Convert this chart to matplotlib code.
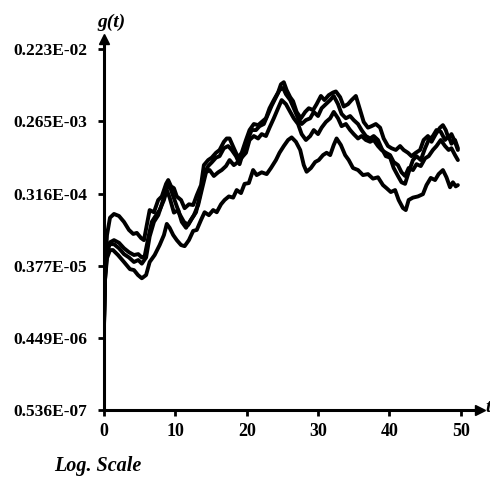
import matplotlib
matplotlib.use("Agg")
import matplotlib.pyplot as plt

# reading off the picture: time t and g(t) for the four curves
t_a = [0, 0.14, 0.42, 0.84, 1.4, 2.1, 2.8, 3.5, 4.1, 4.6, 5.2, 5.6, 6.0, 6.4, 7.0, 7.6, 8.1, 8.7, 9.0, 9.4,
       9.8, 10.2, 10.8, 11.3, 11.9, 12.5, 13.0, 13.6, 14.0, 14.6, 15.1, 15.7, 16.2, 16.8, 17.2, 17.6, 18.2,
       18.8, 19.3, 19.9, 20.4, 21.0, 21.6, 22.1, 22.7, 23.2, 23.8, 24.4, 24.8, 25.2, 25.6, 26.1, 26.5, 27.0,
       27.6, 28.2, 28.7, 29.3, 29.8, 30.4, 30.9, 31.5, 32.1, 32.5, 33.1, 33.6, 34.2, 34.7, 35.3, 35.9, 36.4,
       37.0, 37.5, 38.1, 38.7, 39.2, 39.8, 40.3, 40.9, 41.5, 42.0, 42.6, 43.1, 43.7, 44.3, 44.8, 45.4, 45.9,
       46.5, 47.1, 47.5, 47.9, 48.3, 48.7, 49.2, 49.6]
g_a = [6.6e-7, 3.3e-6, 9.3e-6, 1.55e-5, 1.73e-5, 1.63e-5, 1.37e-5, 1.08e-5, 9.6e-6, 9.9e-6, 8.5e-6, 8.0e-6,
       1.25e-5, 1.94e-5, 1.82e-5, 2.61e-5, 2.9e-5, 4.2e-5, 4.7e-5, 3.9e-5, 3.7e-5, 2.9e-5, 2.61e-5, 2.05e-5,
       2.3e-5, 2.25e-5, 3.0e-5, 4.05e-5, 7.3e-5, 8.47e-5, 9.1e-5, 1.05e-4, 1.14e-4, 1.45e-4, 1.6e-4, 1.6e-4,
       1.2e-4, 9.1e-5, 1.05e-4, 1.53e-4, 2.05e-4, 2.45e-4, 2.37e-4, 2.6e-4, 2.9e-4, 3.9e-4, 4.96e-4, 6.2e-4,
       7.9e-4, 8.4e-4, 6.66e-4, 5.4e-4, 4.8e-4, 3.5e-4, 2.9e-4, 3.5e-4, 3.9e-4, 3.69e-4, 4.4e-4, 5.6e-4,
       4.96e-4, 5.74e-4, 6.2e-4, 6.4e-4, 5.4e-4, 4.1e-4, 4.4e-4, 4.96e-4, 5.6e-4, 3.69e-4, 2.6e-4, 2.2e-4,
       2.3e-4, 2.45e-4, 2.2e-4, 1.6e-4, 1.28e-4, 1.2e-4, 1.14e-4, 1.28e-4, 1.14e-4, 1.05e-4, 9.5e-5, 1.05e-4,
       1.14e-4, 1.53e-4, 1.72e-4, 1.45e-4, 1.82e-4, 2.2e-4, 2.37e-4, 2.05e-4, 1.6e-4, 1.82e-4, 1.45e-4, 1.14e-4]

t_b = [0, 0.14, 0.42, 0.84, 1.4, 2.1, 2.8, 3.5, 4.2, 4.8, 5.3, 5.7, 6.2, 6.7, 7.3, 7.8, 8.4, 8.8, 9.2, 9.8,
       10.4, 10.9, 11.5, 12.0, 12.6, 13.2, 13.7, 14.3, 14.8, 15.4, 16.0, 16.5, 17.1, 17.6, 18.2, 18.8, 19.3,
       19.9, 20.4, 21.0, 21.6, 22.1, 22.7, 23.2, 23.8, 24.4, 24.9, 25.5, 26.1, 26.6, 27.2, 27.7, 28.3, 28.9,
       29.4, 30.0, 30.5, 31.1, 31.7, 32.2, 32.8, 33.3, 33.9, 34.5, 35.0, 35.6, 36.1, 36.7, 37.3, 37.8, 38.4,
       38.9, 39.5, 40.1, 40.6, 41.2, 41.7, 42.2, 42.7, 43.3, 43.8, 44.4, 45.0, 45.5, 46.1, 46.6, 47.2, 47.8,
       48.3, 48.7, 49.2, 49.6]
g_b = [6.2e-7, 2.47e-6, 5.6e-6, 7.5e-6, 8.0e-6, 7.4e-6, 6.3e-6, 5.6e-6, 5.16e-6, 5.3e-6, 4.8e-6, 5.0e-6,
       8.5e-6, 1.37e-5, 1.67e-5, 1.94e-5, 2.61e-5, 3.5e-5, 2.8e-5, 1.8e-5, 1.94e-5, 1.37e-5, 1.15e-5, 1.37e-5,
       1.67e-5, 2.25e-5, 3.5e-5, 5.9e-5, 6.31e-5, 5.3e-5, 5.9e-5, 6.31e-5, 7.1e-5, 8.47e-5, 7.3e-5, 8.0e-5,
       9.1e-5, 1.05e-4, 1.53e-4, 1.72e-4, 1.6e-4, 1.82e-4, 1.72e-4, 2.2e-4, 2.9e-4, 3.9e-4, 4.96e-4, 4.4e-4,
       3.5e-4, 2.9e-4, 2.45e-4, 1.82e-4, 1.53e-4, 1.72e-4, 2.05e-4, 1.82e-4, 2.2e-4, 2.6e-4, 2.9e-4, 3.5e-4,
       2.9e-4, 2.3e-4, 2.45e-4, 2.05e-4, 1.82e-4, 1.6e-4, 1.72e-4, 1.53e-4, 1.45e-4, 1.53e-4, 1.28e-4,
       1.14e-4, 1.05e-4, 9.8e-5, 8.0e-5, 7.3e-5, 5.9e-5, 5.3e-5, 6.7e-5, 6.31e-5, 7.5e-5, 7.1e-5, 8.9e-5,
       9.5e-5, 1.14e-4, 1.28e-4, 1.53e-4, 1.28e-4, 1.14e-4, 1.2e-4, 9.8e-5, 8.47e-5]

t_c = [0, 0.14, 0.42, 0.84, 1.4, 2.1, 2.8, 3.5, 4.2, 4.8, 5.3, 5.9, 6.4, 7.0, 7.6, 8.1, 8.7, 9.1, 9.5, 10.1,
       10.6, 11.2, 11.8, 12.3, 12.9, 13.4, 14.0, 14.6, 15.1, 15.7, 16.2, 16.8, 17.4, 17.9, 18.5, 19.0, 19.6,
       20.2, 20.7, 21.3, 21.8, 22.4, 23.0, 23.5, 24.1, 24.6, 25.1, 25.5, 26.1, 26.6, 27.2, 27.7, 28.3, 28.9,
       29.4, 30.0, 30.5, 31.1, 31.7, 32.2, 32.8, 33.3, 33.9, 34.5, 35.0, 35.6, 36.1, 36.7, 37.3, 37.8, 38.4,
       38.9, 39.5, 40.1, 40.6, 41.2, 41.7, 42.2, 42.7, 43.3, 43.8, 44.4, 45.0, 45.5, 46.1, 46.6, 47.2, 47.8,
       48.3, 48.7, 49.2, 49.6]
g_c = [6.4e-7, 2.86e-6, 6.0e-6, 7.1e-6, 7.1e-6, 6.3e-6, 5.3e-6, 4.8e-6, 4.2e-6, 4.45e-6, 4.0e-6, 4.8e-6,
       8.9e-6, 1.37e-5, 1.67e-5, 2.3e-5, 3.5e-5, 4.2e-5, 3.3e-5, 2.3e-5, 1.72e-5, 1.37e-5, 1.25e-5, 1.5e-5,
       1.82e-5, 2.9e-5, 5.44e-5, 7.1e-5, 7.9e-5, 9.1e-5, 9.5e-5, 1.2e-4, 1.28e-4, 1.14e-4, 9.5e-5, 7.5e-5,
       1.14e-4, 1.6e-4, 2.05e-4, 2.05e-4, 2.3e-4, 2.45e-4, 3.3e-4, 4.2e-4, 5.4e-4, 6.66e-4, 7.1e-4, 5.9e-4,
       4.96e-4, 3.9e-4, 2.9e-4, 2.45e-4, 2.75e-4, 2.9e-4, 3.5e-4, 3.1e-4, 3.9e-4, 4.4e-4, 4.96e-4, 5.6e-4,
       4.4e-4, 3.3e-4, 2.9e-4, 3.1e-4, 2.75e-4, 2.45e-4, 2.05e-4, 1.72e-4, 1.6e-4, 1.72e-4, 1.53e-4, 1.2e-4,
       9.5e-5, 9.1e-5, 6.7e-5, 5.3e-5, 4.4e-5, 4.2e-5, 5.9e-5, 8.47e-5, 9.5e-5, 8.47e-5, 1.2e-4, 1.53e-4,
       1.72e-4, 2.05e-4, 1.95e-4, 1.53e-4, 1.72e-4, 1.37e-4, 1.53e-4, 1.2e-4]

t_d = [0, 0.14, 0.42, 0.84, 1.26, 1.96, 2.8, 3.64, 4.2, 4.76, 5.3, 5.9, 6.4, 7.1, 7.8, 8.4, 8.8, 9.2, 9.7,
       10.2, 10.8, 11.3, 11.9, 12.5, 13.0, 13.6, 14.1, 14.7, 15.3, 15.8, 16.4, 16.9, 17.5, 18.1, 18.6, 19.2,
       19.7, 20.3, 20.9, 21.4, 22.1, 22.8, 23.4, 24.1, 24.6, 25.2, 25.8, 26.3, 26.9, 27.5, 28.0, 28.4, 29.0,
       29.6, 30.1, 30.7, 31.2, 31.7, 32.2, 32.6, 33.2, 33.8, 34.3, 34.9, 35.6, 36.3, 37.0, 37.7, 38.4, 39.1,
       39.6, 40.2, 40.8, 41.3, 41.9, 42.3, 42.7, 43.3, 44.0, 44.7, 45.2, 45.8, 46.4, 46.9, 47.5, 48.0, 48.5,
       48.9, 49.3, 49.6]
g_d = [7.6e-7, 2.47e-6, 4.7e-6, 5.97e-6, 5.97e-6, 5.16e-6, 4.2e-6, 3.4e-6, 3.31e-6, 2.86e-6, 2.6e-6,
       2.86e-6, 4.2e-6, 5.16e-6, 6.92e-6, 9.29e-6, 1.29e-5, 1.15e-5, 9.29e-6, 8.0e-6, 6.92e-6, 6.7e-6, 8.0e-6,
       1.05e-5, 1.08e-5, 1.45e-5, 1.82e-5, 1.67e-5, 1.94e-5, 1.82e-5, 2.3e-5, 2.61e-5, 2.9e-5, 2.8e-5, 3.5e-5,
       3.2e-5, 4.2e-5, 4.3e-5, 6.31e-5, 5.44e-5, 5.9e-5, 5.6e-5, 6.7e-5, 8.47e-5, 1.05e-4, 1.28e-4, 1.53e-4,
       1.65e-4, 1.45e-4, 1.14e-4, 7.31e-5, 6.0e-5, 6.7e-5, 8.0e-5, 8.47e-5, 9.81e-5, 1.05e-4, 9.8e-5, 1.32e-4,
       1.6e-4, 1.32e-4, 9.8e-5, 8.47e-5, 6.7e-5, 6.31e-5, 5.44e-5, 5.6e-5, 4.9e-5, 5.1e-5, 4.05e-5, 3.7e-5,
       3.3e-5, 3.5e-5, 2.61e-5, 2.06e-5, 1.94e-5, 2.61e-5, 2.8e-5, 2.9e-5, 3.1e-5, 4.05e-5, 5.0e-5, 4.7e-5,
       5.6e-5, 6.31e-5, 5.1e-5, 3.8e-5, 4.4e-5, 3.9e-5, 4.05e-5]

ytick_vals = [0.536e-7, 0.449e-6, 0.377e-5, 0.316e-4, 0.265e-3, 0.223e-2]
ytick_labels = ["0.536E-07", "0.449E-06", "0.377E-05", "0.316E-04", "0.265E-03", "0.223E-02"]
xtick_vals = [0, 10, 20, 30, 40, 50]

serif = "Liberation Serif"

fig = plt.figure(figsize=(4.9, 4.78), dpi=100)
ax = fig.add_axes([104 / 490, 1 - 410 / 478, 376 / 490, 371 / 478])

for t, g in [(t_d, g_d), (t_b, g_b), (t_c, g_c), (t_a, g_a)]:
    ax.plot(t, g, color="black", lw=2.8, solid_joinstyle="round", solid_capstyle="round")

ax.set_yscale("log")
ax.set_xlim(0, 52.7)
ax.set_ylim(0.536e-7, 3.0e-3)
ax.minorticks_off()
ax.set_yticks(ytick_vals)
ax.set_yticklabels(ytick_labels, fontfamily=serif, fontweight="bold", fontsize=12.5)
ax.set_xticks(xtick_vals)
ax.set_xticklabels([str(v) for v in xtick_vals], fontfamily=serif, fontweight="bold", fontsize=13)
ax.tick_params(axis="both", length=4, width=2, direction="out", pad=5)
ax.tick_params(axis="y", pad=8)

for s in ["top", "right"]:
    ax.spines[s].set_visible(False)
for s in ["left", "bottom"]:
    ax.spines[s].set_linewidth(2.2)

# arrow heads on the axes
ax.plot(1, 0, ">k", markersize=7, transform=ax.transAxes, clip_on=False)
ax.plot(0, 1, "^k", markersize=7, transform=ax.transAxes, clip_on=False)

fig.text(111 / 490, 1 - 22 / 478, "g(t)", fontfamily=serif, fontstyle="italic", fontweight="bold",
         fontsize=14, ha="center", va="center")
fig.text(485 / 490, 1 - 408 / 478, "t", fontfamily=serif, fontstyle="italic", fontweight="bold",
         fontsize=14, ha="left", va="center")
fig.text(98 / 490, 1 - 466 / 478, "Log. Scale", fontfamily=serif, fontstyle="italic", fontweight="bold",
         fontsize=14.5, ha="center", va="center")

fig.savefig("out.png", dpi=100)
